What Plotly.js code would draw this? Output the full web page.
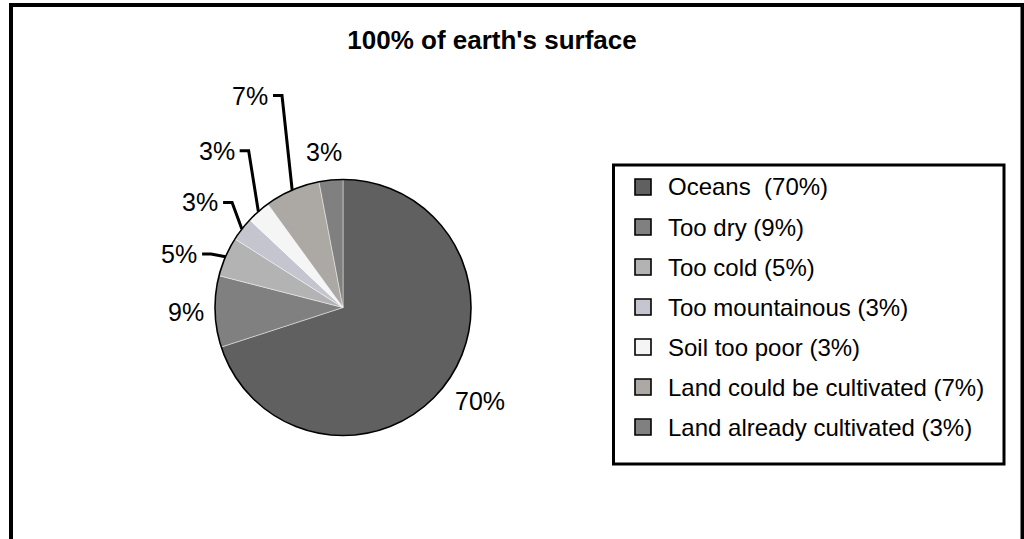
<!DOCTYPE html>
<html>
<head>
<meta charset="utf-8">
<script src="https://cdn.plot.ly/plotly-3.0.1.min.js"></script>
<style>
html,body{margin:0;padding:0;background:#ffffff;}
#chart{width:1024px;height:539px;}
</style>
</head>
<body>
<div id="chart"></div>
<script>
// ---------------- data ----------------
const categories = ["Oceans", "Too dry", "Too cold", "Too mountainous", "Soil too poor", "Land could be cultivated", "Land already cultivated"];
const values = [70, 9, 5, 3, 3, 7, 3];
const legendLabels = ["Oceans  (70%)", "Too dry (9%)", "Too cold (5%)", "Too mountainous (3%)", "Soil too poor (3%)", "Land could be cultivated (7%)", "Land already cultivated (3%)"];
const titleText = "100% of earth's surface";

// ---------------- styles / layout ----------------
const sliceColors = ["#606060", "#808080", "#b3b3b3", "#c5c5cf", "#f5f5f5", "#aca9a4", "#808080"];
const FONT = "Liberation Sans, Arial, Helvetica, sans-serif";
const W = 1024, H = 539;
const cx = 343, cy = 307.5, R = 128;          // pie centre and radius (px)
// label placement: distance from pie centre (px), angle shift (deg), leader line
const labelPlace = [
  {r: 166,   da: -1.7, leader: false},
  {r: 157,   da:  0.0, leader: false},
  {r: 172.5, da: -5.3, leader: true},
  {r: 177.4, da: -1.5, leader: true},
  {r: 201.3, da:  2.5, leader: true},
  {r: 231.5, da: -0.3, leader: true},
  {r: 156.7, da: -1.6, leader: false}
];
const labelFontSize = 25;
const legendBox = {x0: 613.5, y0: 165, x1: 1004, y1: 464};
const legendFirstY = 187, legendStep = 40, legendSwatchX = 635, legendSwatch = 16, legendTextX = 666;

const px = x => x / W;
const py = y => 1 - y / H;

const domain = {x: [px(cx - R), px(cx + R)], y: [py(cy + R), py(cy - R)]};

// ---------------- traces ----------------
const pieMain = {
  type: "pie",
  values: values,
  labels: categories,
  sort: false,
  direction: "clockwise",
  rotation: 0,
  marker: {colors: sliceColors, line: {color: "rgba(255,255,255,0.55)", width: 0.8}},
  textinfo: "none",
  hoverinfo: "label+percent",
  showlegend: false,
  domain: domain
};
const pieOutline = {
  type: "pie",
  values: [1],
  labels: ["outline"],
  sort: false,
  marker: {colors: ["rgba(0,0,0,0)"], line: {color: "#000000", width: 1.6}},
  textinfo: "none",
  hoverinfo: "skip",
  showlegend: false,
  domain: domain
};

// ---------------- annotations & shapes ----------------
const total = values.reduce((a, b) => a + b, 0);
const annotations = [];
const shapes = [];

// outer frame
shapes.push({type: "rect", xref: "paper", yref: "paper",
  x0: px(11), x1: px(1022.5), y0: py(5), y1: py(620),
  line: {color: "#000000", width: 4}, fillcolor: "rgba(0,0,0,0)"});

let cum = 0;
values.forEach((v, i) => {
  const mid = (cum + v / 2) / total * 360;
  cum += v;
  const pl = labelPlace[i];
  const a = (mid + pl.da) * Math.PI / 180;
  const lx = cx + pl.r * Math.sin(a);
  const ly = cy - pl.r * Math.cos(a);
  const txt = Math.round(v / total * 100) + "%";
  annotations.push({
    xref: "paper", yref: "paper", x: px(lx), y: py(ly),
    xanchor: "center", yanchor: "middle", showarrow: false,
    text: txt, font: {family: FONT, size: labelFontSize, color: "#000000"}
  });
  if (pl.leader) {
    const halfW = labelFontSize * 0.7225 * (txt.length - 1) / 1;
    const sx = lx + labelFontSize * 0.7225 + 5;
    const kx = sx + 9;
    const am = mid * Math.PI / 180;
    const ex = cx + R * Math.sin(am);
    const ey = cy - R * Math.cos(am);
    shapes.push({type: "path", xref: "paper", yref: "paper",
      path: `M${px(sx)},${py(ly)} L${px(kx)},${py(ly)} L${px(ex)},${py(ey)}`,
      line: {color: "#000000", width: 3}, fillcolor: "rgba(0,0,0,0)"});
  }
});

// legend box
shapes.push({type: "rect", xref: "paper", yref: "paper",
  x0: px(legendBox.x0), x1: px(legendBox.x1), y0: py(legendBox.y0), y1: py(legendBox.y1),
  line: {color: "#000000", width: 3}, fillcolor: "#ffffff"});
legendLabels.forEach((lab, i) => {
  const yc = legendFirstY + i * legendStep;
  shapes.push({type: "rect", xref: "paper", yref: "paper",
    x0: px(legendSwatchX), x1: px(legendSwatchX + legendSwatch),
    y0: py(yc - legendSwatch / 2), y1: py(yc + legendSwatch / 2),
    line: {color: "#000000", width: 1.6}, fillcolor: sliceColors[i]});
  annotations.push({
    xref: "paper", yref: "paper", x: px(legendTextX), y: py(yc),
    xanchor: "left", yanchor: "middle", showarrow: false,
    text: lab, font: {family: FONT, size: 24, color: "#000000"}
  });
});

const layout = {
  width: W, height: H,
  margin: {l: 0, r: 0, t: 0, b: 0},
  paper_bgcolor: "#ffffff",
  plot_bgcolor: "#ffffff",
  showlegend: false,
  title: {
    text: titleText,
    x: px(492), xanchor: "center", xref: "paper",
    y: py(40), yanchor: "middle", yref: "paper",
    font: {family: FONT, size: 26, weight: "bold", color: "#000000"}
  },
  annotations: annotations,
  shapes: shapes
};

Plotly.newPlot("chart", [pieMain, pieOutline], layout, {displayModeBar: false, staticPlot: true});
</script>
</body>
</html>
